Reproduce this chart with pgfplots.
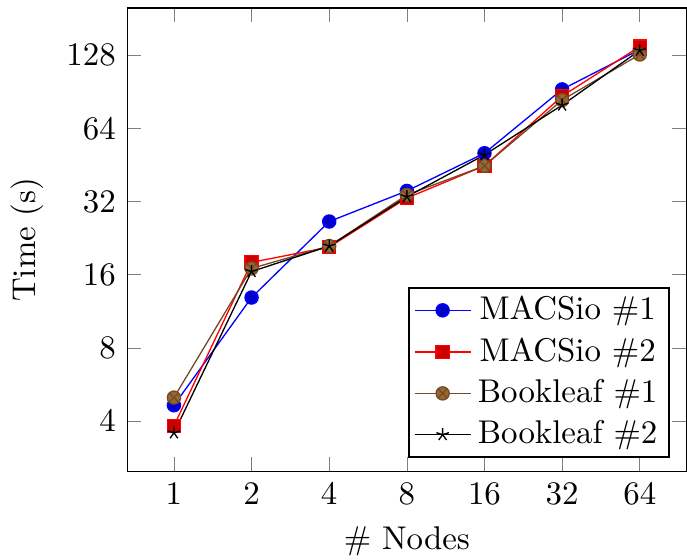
\documentclass[border=0pt]{standalone}
\usepackage{pgfplots}
\pgfplotsset{compat=1.18}

\begin{document}
\begin{tikzpicture}
  \begin{loglogaxis}[
      scale only axis, width=170pt, height=141pt,
      log basis x=2, log basis y=2,
      xtick={1,2,4,8,16,32,64},
      ytick={4,8,16,32,64,128},
      log ticks with fixed point,
      xlabel={\# Nodes}, ylabel={Time (s)},
      legend pos=south east,
      legend style={inner xsep=1.5pt, inner ysep=0.5pt}]
    \addplot coordinates {(1,4.65) (2,12.9) (4,26.5) (8,35.4) (16,50.6) (32,92.6) (64,135)};
    \addplot coordinates {(1,3.83) (2,18.0) (4,20.8) (8,33.1) (16,44.9) (32,86.9) (64,139)};
    \addplot coordinates {(1,5.0) (2,17.0) (4,21.0) (8,34.1) (16,44.9) (32,83.7) (64,128.9)};
    \addplot coordinates {(1,3.58) (2,16.5) (4,21.0) (8,33.5) (16,49.8) (32,79.8) (64,134)};
    \legend{MACSio \#1, MACSio \#2, Bookleaf \#1, Bookleaf \#2}
  \end{loglogaxis}
  % the reference is framed a little higher than the plot
  \pgfresetboundingbox
  \path ([yshift=2.2pt]current axis.outer north east)
    rectangle ([yshift=2.2pt]current axis.outer south west);
\end{tikzpicture}
\end{document}
